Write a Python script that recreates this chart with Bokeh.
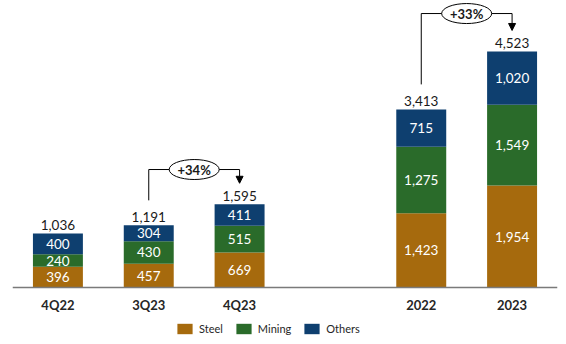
from bokeh.plotting import figure
from bokeh.models import (ColumnDataSource, Range1d, FixedTicker, Legend,
                          LegendItem, Arrow, NormalHead, LinearAxis)
from bokeh.embed import file_html
from bokeh.resources import INLINE
from bokeh.core.properties import value

# ---------------- data ----------------
categories = ["4Q22", "3Q23", "4Q23", "2022", "2023"]
steel = [396, 457, 669, 1423, 1954]
mining = [240, 430, 515, 1275, 1549]
others = [400, 304, 411, 715, 1020]
totals = [1036, 1191, 1595, 3413, 4523]
series = ["Steel", "Mining", "Others"]
colors = ["#A66A0D", "#2A6B2A", "#0E3F6F"]
growth_from = ["3Q23", "2022"]
growth_to = ["4Q23", "2023"]
growth_label = ["+34%", "+33%"]

FONT = "Lato"
Y_MAX = 5500
u = Y_MAX / 287  # data units per pixel (baseline 287 px below the top)
Y_MIN = -57 * u

gap_after = 3
xpos = [i + (1 if i >= gap_after else 0) for i in range(len(categories))]
pos = dict(zip(categories, xpos))
tot = dict(zip(categories, totals))

p = figure(width=566, height=344, output_backend="svg", toolbar_location=None,
           x_range=Range1d(-0.5, 5.5), y_range=Range1d(Y_MIN, Y_MAX),
           x_axis_location=None, y_axis_location=None,
           min_border_left=12, min_border_right=9,
           min_border_top=0, min_border_bottom=0)
p.outline_line_color = None
p.xgrid.visible = False
p.ygrid.visible = False
p.background_fill_color = "white"

src = ColumnDataSource(dict(x=xpos, Steel=steel, Mining=mining, Others=others))
rs = p.vbar_stack(series, x="x", width=0.55, color=colors, line_color=None, source=src)

# labels inside segments
lx, ly, lt = [], [], []
vals = [steel, mining, others]
for i, x in enumerate(xpos):
    base = 0
    for s in vals:
        v = s[i]
        lx.append(x); ly.append(base + v / 2); lt.append(f"{v:,}")
        base += v
p.text(x=lx, y=ly, text=lt, text_align="center", text_baseline="middle",
       text_color="white", text_font=value(FONT), text_font_size="13.5px")

# totals
p.text(x=xpos, y=totals, text=[f"{t:,}" for t in totals], text_align="center",
       text_baseline="bottom", y_offset=-3, text_color="#1a1a1a",
       text_font=value(FONT), text_font_size="13.5px")

# growth connectors
levels = [2261, 5250]
for a, b, lab, lev in zip(growth_from, growth_to, growth_label, levels):
    xa, xb = pos[a], pos[b]
    ystart = tot[a] + 25 * u
    ytip = tot[b] + 21 * u
    p.segment(x0=[xa, xa], y0=[ystart, lev], x1=[xa, xb], y1=[lev, lev],
              line_color="black", line_width=1)
    p.add_layout(Arrow(end=NormalHead(size=7, fill_color="black", line_color="black"),
                       x_start=xb, y_start=lev, x_end=xb, y_end=ytip,
                       line_color="black", line_width=1))
    xm = (xa + xb) / 2
    p.ellipse(x=[xm], y=[lev], width=50, height=20, width_units="screen",
              height_units="screen", fill_color="white", line_color="black",
              line_width=1)
    p.text(x=[xm], y=[lev], text=[lab], text_align="center", text_baseline="middle",
           text_font=value(FONT), text_font_size="13px", text_font_style="bold",
           text_color="#1a1a1a")

# axis at y = 0 inside the frame
xaxis = LinearAxis(fixed_location=0, ticker=FixedTicker(ticks=xpos),
                   major_label_overrides={x: c for x, c in zip(xpos, categories)})
xaxis.major_tick_line_color = None
xaxis.minor_tick_line_color = None
xaxis.axis_line_color = "#7a7a7a"
xaxis.axis_line_width = 1.5
xaxis.major_label_text_font = FONT
xaxis.major_label_text_font_size = "13px"
xaxis.major_label_text_font_style = "bold"
xaxis.major_label_text_color = "#262626"
xaxis.major_label_standoff = 3
p.add_layout(xaxis, "below")

legend = Legend(items=[LegendItem(label=s, renderers=[r]) for s, r in zip(series, rs)],
                orientation="horizontal", location=(163, 9),
                glyph_width=19, glyph_height=13, label_standoff=5, spacing=11,
                label_text_font=FONT, label_text_font_size="11px",
                label_text_color="#262626", border_line_color=None,
                background_fill_alpha=0, padding=0, margin=0)
p.add_layout(legend)

open("out.html", "w").write(file_html(p, INLINE))
